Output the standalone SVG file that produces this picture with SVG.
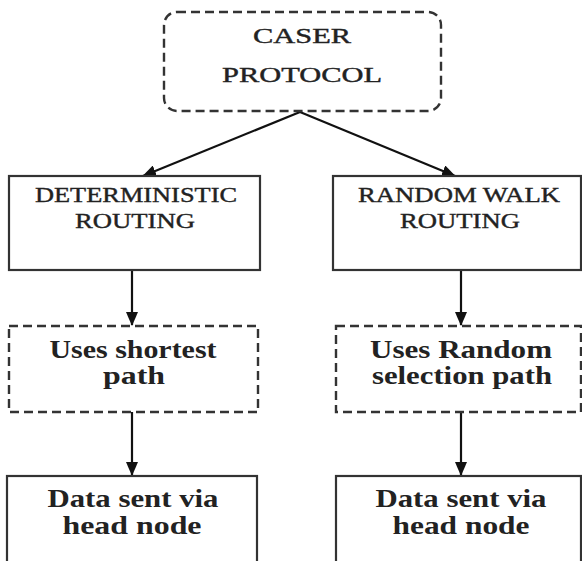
<svg xmlns="http://www.w3.org/2000/svg" width="582" height="561" viewBox="0 0 582 561">
<style>
.box{fill:#fff;stroke:#333;stroke-width:2.2}
.dash{stroke-dasharray:9 5;stroke-width:2.4}
.cap{font-family:"Liberation Serif",serif;font-size:22px;fill:#222;stroke:#222;stroke-width:0.4;text-anchor:middle}
.bt{font-family:"Liberation Serif",serif;font-size:25px;font-weight:bold;fill:#222;text-anchor:middle}
.edge{stroke:#111;stroke-width:2.2;fill:none}
</style>
<defs>
<marker id="ah" markerWidth="14" markerHeight="12" refX="13" refY="6" orient="auto" markerUnits="userSpaceOnUse">
<path d="M0,0 L14,6 L0,12 Z" fill="#111"/>
</marker>
</defs>
<rect width="582" height="561" fill="#fff"/>
<g id="connectors">
<line class="edge" x1="300" y1="112" x2="143" y2="176" marker-end="url(#ah)"/>
<line class="edge" x1="300" y1="112" x2="455" y2="176" marker-end="url(#ah)"/>
<line class="edge" x1="132" y1="270" x2="132" y2="325" marker-end="url(#ah)"/>
<line class="edge" x1="461" y1="270" x2="461" y2="325" marker-end="url(#ah)"/>
<line class="edge" x1="132" y1="412" x2="132" y2="475" marker-end="url(#ah)"/>
<line class="edge" x1="461" y1="412" x2="461" y2="475" marker-end="url(#ah)"/>
</g>
<g id="caser">
<rect class="box dash" x="164" y="12" width="277" height="99" rx="13"/>
<text class="cap" x="302" y="43" textLength="98" lengthAdjust="spacingAndGlyphs">CASER</text>
<text class="cap" x="302" y="82" textLength="160" lengthAdjust="spacingAndGlyphs">PROTOCOL</text>
</g>
<g id="deterministic">
<rect class="box" x="9" y="176" width="251" height="94"/>
<text class="cap" x="136" y="202" textLength="202" lengthAdjust="spacingAndGlyphs">DETERMINISTIC</text>
<text class="cap" x="135" y="228" textLength="120" lengthAdjust="spacingAndGlyphs">ROUTING</text>
</g>
<g id="randomwalk">
<rect class="box" x="333" y="176" width="248" height="94"/>
<text class="cap" x="459" y="202" textLength="202" lengthAdjust="spacingAndGlyphs">RANDOM WALK</text>
<text class="cap" x="460" y="228" textLength="120" lengthAdjust="spacingAndGlyphs">ROUTING</text>
</g>
<g id="shortest">
<rect class="box dash" x="9" y="326" width="249" height="86"/>
<text class="bt" x="133" y="358" textLength="167" lengthAdjust="spacingAndGlyphs">Uses shortest</text>
<text class="bt" x="134" y="384" textLength="62" lengthAdjust="spacingAndGlyphs">path</text>
</g>
<g id="randomsel">
<rect class="box dash" x="336" y="326" width="245" height="86"/>
<text class="bt" x="461" y="358" textLength="182" lengthAdjust="spacingAndGlyphs">Uses Random</text>
<text class="bt" x="462" y="384" textLength="180" lengthAdjust="spacingAndGlyphs">selection path</text>
</g>
<g id="datal">
<rect class="box" x="7" y="476" width="250" height="100"/>
<text class="bt" x="133" y="507" textLength="171" lengthAdjust="spacingAndGlyphs">Data sent via</text>
<text class="bt" x="132" y="534" textLength="139" lengthAdjust="spacingAndGlyphs">head node</text>
</g>
<g id="datar">
<rect class="box" x="336" y="476" width="245" height="100"/>
<text class="bt" x="461" y="507" textLength="171" lengthAdjust="spacingAndGlyphs">Data sent via</text>
<text class="bt" x="461" y="534" textLength="137" lengthAdjust="spacingAndGlyphs">head node</text>
</g>
</svg>
